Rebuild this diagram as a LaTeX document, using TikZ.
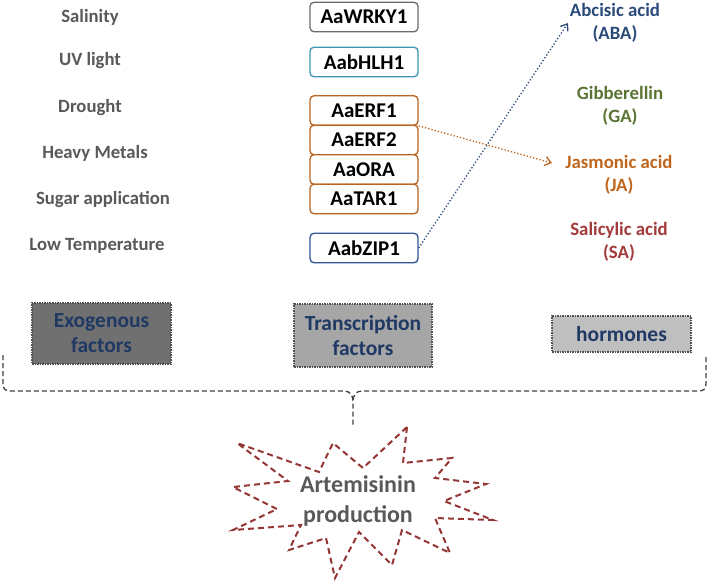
\documentclass[tikz,border=0pt]{standalone}
\usepackage{fontspec}
\setmainfont{Carlito}
\usetikzlibrary{arrows.meta}
\definecolor{lblgray}{HTML}{595959}
\definecolor{wrkycol}{HTML}{6A6A6A}
\definecolor{hlhcol}{HTML}{3B96B2}
\definecolor{erfcol}{HTML}{B8631F}
\definecolor{zipcol}{HTML}{2F5597}
\definecolor{abacol}{HTML}{2A4A7A}
\definecolor{gacol}{HTML}{5A7533}
\definecolor{jacol}{HTML}{C0651C}
\definecolor{sacol}{HTML}{A33B3B}
\definecolor{boxtxt}{HTML}{1F3864}
\definecolor{exofill}{HTML}{707070}
\definecolor{tffill}{HTML}{A6A6A6}
\definecolor{horfill}{HTML}{BFBFBF}
\definecolor{boxedge}{HTML}{505050}
\definecolor{bracecol}{HTML}{404040}
\definecolor{starcol}{HTML}{943634}
\tikzset{
  factor/.style={text=lblgray, font=\bfseries\fontsize{18.7}{20}\selectfont, inner sep=0pt},
  tfbox/.style={draw=#1, rounded corners=4pt, line width=1.3pt, minimum width=108pt,
    minimum height=29.5pt, inner sep=0pt, fill=white, text=black,
    font=\bfseries\fontsize{21}{23}\selectfont},
  hormone/.style={text=#1, align=center, inner sep=0pt,
    font=\bfseries\fontsize{18.8}{23}\selectfont},
  catbox/.style={draw=boxedge, densely dotted, line width=1.5pt, fill=#1, text=boxtxt,
    align=center, inner sep=0pt, font=\bfseries\fontsize{21.5}{25}\selectfont},
  linkarrow/.style={draw=#1, dotted, line width=1.3pt, -{Straight Barb[length=6pt,width=9pt]}},
}
\begin{document}
\begin{tikzpicture}[x=1pt,y=-1pt]
\useasboundingbox (0,0) rectangle (708,582);
% exogenous factors
\node[factor] (sal) at (90,17) {Salinity};
\node[factor] (uv) at (90,61) {UV light};
\node[factor] (dro) at (90,108) {Drought};
\node[factor] (hm) at (95,153) {Heavy Metals};
\node[factor] (sug) at (103,200) {Sugar application};
\node[factor] (low) at (97,246) {Low Temperature};
% transcription factors
\node[tfbox=wrkycol] (wrky) at (364,17) {AaWRKY1};
\node[tfbox=hlhcol] (hlh) at (364,62) {AabHLH1};
\node[tfbox=erfcol] (erf1) at (364,110.5) {AaERF1};
\node[tfbox=erfcol] (erf2) at (364,140) {AaERF2};
\node[tfbox=erfcol] (ora) at (364,169.5) {AaORA};
\node[tfbox=erfcol] (tar) at (364,199) {AaTAR1};
\node[tfbox=zipcol] (zip) at (364,248) {AabZIP1};
% hormones
\node[hormone=abacol] (aba) at (615,23) {Abcisic acid\\(ABA)};
\node[hormone=gacol] (ga) at (620,106) {Gibberellin\\(GA)};
\node[hormone=jacol] (ja) at (619,174.5) {Jasmonic acid\\(JA)};
\node[hormone=sacol] (sa) at (619,242) {Salicylic acid\\(SA)};
% arrows
\coordinate (abatip) at (568,23);
\coordinate (jatip) at (552,163);
\draw[linkarrow=jacol] (erf1.south east) -- (jatip);
\draw[linkarrow=abacol] (zip.east) -- (abatip);
% category boxes
\node[catbox=exofill, minimum width=139pt, minimum height=61pt] (exo) at (101.5,333.5) {Exogenous\\factors};
\node[catbox=tffill, minimum width=138pt, minimum height=63pt] (tfs) at (363,335.5) {Transcription\\factors};
\node[catbox=horfill, minimum width=139pt, minimum height=36pt] (hor) at (621.5,334) {hormones};
% brace
\coordinate (bl) at (3,355);
\coordinate (br) at (706,357);
\coordinate (btip) at (353,427);
\draw[bracecol, dashed, line width=1.3pt, dash pattern=on 5pt off 3pt]
  (bl) -- (3,383) .. controls (3,389) and (5,391) .. (11,391)
  -- (344,391) .. controls (350,391) and (353,395) .. (353,402) -- (btip);
\draw[bracecol, dashed, line width=1.3pt, dash pattern=on 5pt off 3pt]
  (br) -- (706,383) .. controls (706,389) and (704,391) .. (698,391)
  -- (362,391) .. controls (356,391) and (353,395) .. (353,402);
% star
\draw[starcol, line width=2pt, dash pattern=on 6pt off 4pt, line join=miter]
  (407,427) -- (403,463) -- (452,458) -- (435,478) -- (486,484) -- (444,501)
  -- (493,520) -- (435,518) -- (450,553) -- (402,530) -- (392,565) -- (359,532)
  -- (335,578) -- (326,538) -- (289,550) -- (301,525) -- (233,530) -- (277,509)
  -- (233,487) -- (288,481) -- (237,443) -- (319,472) -- (333,443) -- (363,468)
  -- cycle;
\node[text=lblgray, align=center, inner sep=0pt, font=\bfseries\fontsize{24}{30}\selectfont] (art) at (358,501) {Artemisinin\\production};
\end{tikzpicture}
\end{document}
